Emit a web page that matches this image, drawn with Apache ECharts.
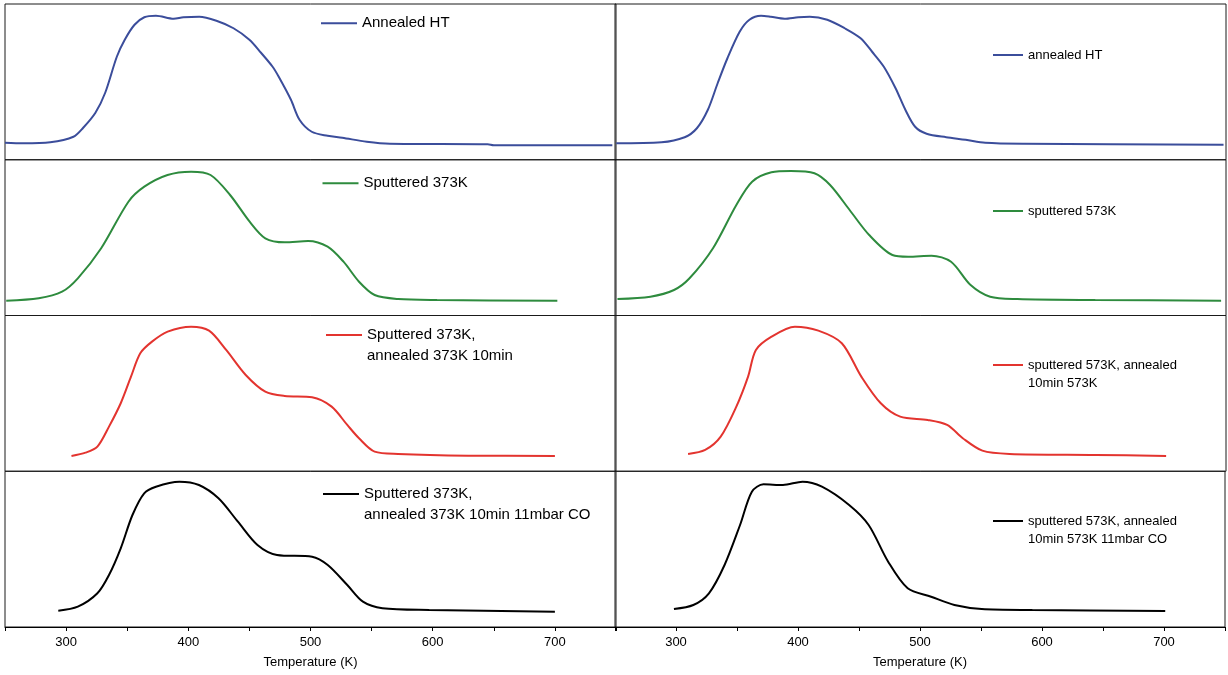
<!DOCTYPE html>
<html>
<head>
<meta charset="utf-8">
<script src="https://cdn.jsdelivr.net/npm/echarts@6/dist/echarts.min.js"></script>
<style>
html,body{margin:0;padding:0;background:#fff;}
#c{width:1228px;height:675px;}
</style>
</head>
<body>
<div id="c"></div>
<script>
// ---- Data (temperature in K, intensity in arbitrary units) ----
const NAMES = [
  'Annealed HT', 'annealed HT',
  'Sputtered 373K', 'sputtered 573K',
  'Sputtered 373K,\nannealed 373K 10min', 'sputtered 573K, annealed\n10min 573K',
  'Sputtered 373K,\nannealed 373K 10min 11mbar CO', 'sputtered 573K, annealed\n10min 573K 11mbar CO'
];
const TICK_LABELS = [300, 400, 500, 600, 700];

const T_A_L = [250,265,287,306,314,324,332,341.5,348,356,364,373.5,388,396,409,423,437,450,459.5,469,474,484,491,501,514,526,546,565,645,650,747];
const I_A_L = [17,16.5,17.5,23,32,47,67,103,120,135,142.5,144,141,142.5,143,139,131.5,120,107,93,83,60,40,28,24,22,18,16,15.5,14.5,14.5];

const T_A_R = [251,288,307,317,326,334,342,352,360,369.5,377.5,388.7,400,409.4,423.7,438,451,460.4,470,479.6,487.6,495.6,505,521,537,553,585,748];
const I_A_R = [16.5,17.5,22.5,31.5,50,76.5,101.5,128,140,144,143,141,142.5,143,140,131.5,121.5,108,93,71.5,50,33,26,22.5,20,17,16,15];

const T_S_L = [251,277.6,296.7,309.6,328.7,351,364,383,402.3,418.2,434.2,450.2,463,479,498,514,527,539.7,552.5,571.7,603.6,702];
const I_S_L = [14.8,17.2,23.8,37.2,67.2,113.8,128.8,140.5,143.8,140.5,120.5,93.8,77.2,73.2,74.5,68.8,53.8,33.8,20.5,16.5,15.5,14.8];

const T_S_R = [252,279,298.3,311,330.2,349.3,362.2,378,394,413.2,426,442,458,477,490,509,525,541,557,579.3,643,746];
const I_S_R = [16.5,18.8,25.5,37.2,67.2,110.5,133.8,143.2,144.5,142.2,130.5,105.5,80.5,60.5,58.8,59.8,53.8,30.5,18.8,16.5,15.5,14.8];

const T_SA_L = [304.4,315.9,325.6,335.1,344.7,353.1,360.7,370.3,383.1,402.3,417,431,447,463,478.9,501.3,517.3,530.1,539.7,552.5,571.7,629,700];
const I_SA_L = [15.3,18.6,24.6,44.6,68,94.6,118,129.6,139.6,144.6,140.6,121.3,96.3,79.6,75.3,74,64.6,46.3,33,19.6,17.3,15.6,15.3];

const T_SA_R = [309.8,323.8,336.5,349.3,358.9,365.3,378.1,397.2,416.4,435.6,451.6,467.5,483.4,505.9,521.8,534.6,550.6,572.9,643,701];
const I_SA_R = [17.3,21.3,34.6,64.6,94.6,121.3,134.6,144.6,140.6,128,94.6,68,54.6,51.3,46.3,33,20.6,17.3,16.3,15.3];

const T_CO_L = [293.6,309.6,325.6,335.1,344.7,354.3,363.9,373.5,392.7,408.7,424.7,440.6,456.6,472.6,501.3,514.1,530.1,542.9,558.9,597.2,700];
const I_CO_L = [16.3,20.3,33.7,52,78.7,112,133.7,140.3,145.3,142,128.7,105.3,82,72,70.3,62,42,25.3,18.7,17,15.3];

const T_CO_R = [298.3,314.2,327,339.8,352.5,362.2,371.7,387.7,403.7,419.6,441.9,457.9,473.9,489.9,509.1,528.2,550.6,592.1,701];
const I_CO_R = [18,22,33.7,62,102,135.3,142.7,142,145.3,140.3,122,102,65.3,38.7,30.3,22,18,17,16];

const TEMPS = [T_A_L, T_A_R, T_S_L, T_S_R, T_SA_L, T_SA_R, T_CO_L, T_CO_R];
const INTS  = [I_A_L, I_A_R, I_S_L, I_S_R, I_SA_L, I_SA_R, I_CO_L, I_CO_R];
const COLORS = ['#3b4d9b','#3b4d9b','#2e8b3e','#2e8b3e','#e3342f','#e3342f','#000000','#000000'];

// ---- Layout ----
const ROW_TOP = [4, 159.75, 315.5, 471.25];
const ROW_H = 155.75;
const COL_LEFT = [5, 615];
const COL_W = 611;
const FONT = '"Liberation Sans", Arial, sans-serif';

// legend placement: [iconLeft, iconCenterY] per panel
const LEG_POS = [
  [321, 23.3], [993, 55],
  [322.5, 183.3], [993, 211],
  [326, 335], [993, 365],
  [323, 494], [993, 521]
];

const grids = [], xAxes = [], yAxes = [], series = [], legends = [];
for (let i = 0; i < 8; i++) {
  const row = Math.floor(i / 2), col = i % 2;
  const bottomRow = row === 3;
  grids.push({
    left: COL_LEFT[col], top: ROW_TOP[row], width: COL_W, height: ROW_H,
    show: true, borderColor: '#1a1a1a', borderWidth: 1, backgroundColor: 'transparent'
  });
  xAxes.push({
    type: 'value', gridIndex: i, min: 250, max: 750, interval: 50,
    show: true,
    splitLine: { show: false },
    axisLine: { show: bottomRow, onZero: false, lineStyle: { color: '#000', width: 1 } },
    axisTick: { show: bottomRow, length: 4, lineStyle: { color: '#000' } },
    axisLabel: {
      show: bottomRow, margin: 9, color: '#000', fontSize: 13, fontFamily: FONT,
      formatter: v => TICK_LABELS.indexOf(v) >= 0 ? String(v) : ''
    },
    name: bottomRow ? 'Temperature (K)' : '',
    nameLocation: 'middle', nameGap: 29,
    nameTextStyle: { color: '#000', fontSize: 13, fontFamily: FONT }
  });
  yAxes.push({
    type: 'value', gridIndex: i, min: 0, max: ROW_H, show: false,
    splitLine: { show: false }
  });
  series.push({
    type: 'line', name: NAMES[i], xAxisIndex: i, yAxisIndex: i,
    data: TEMPS[i].map((t, k) => [t, INTS[i][k]]),
    showSymbol: false, symbol: 'none', smooth: 0.3,
    lineStyle: { color: COLORS[i], width: 2 },
    itemStyle: { color: COLORS[i] },
    animation: false
  });
  const twoLine = NAMES[i].indexOf('\n') >= 0;
  const fs = col === 0 ? 15 : 13;
  const lh = col === 0 ? 21 : 18;
  const boxH = twoLine ? lh * 3 : lh;
  legends.push({
    data: [NAMES[i]],
    left: LEG_POS[i][0],
    top: LEG_POS[i][1] - boxH / 2,
    padding: 0,
    icon: 'rect',
    itemWidth: col === 0 ? 36 : 30,
    itemHeight: 2,
    itemGap: 5,
    selectedMode: false,
    // an empty first line keeps the first text line level with the legend line
    formatter: twoLine ? (n => ' \n' + n) : (n => n),
    textStyle: {
      color: '#000', fontSize: fs, fontFamily: FONT, lineHeight: lh
    }
  });
}

const chart = echarts.init(document.getElementById('c'), null, { renderer: 'canvas' });
chart.setOption({
  animation: false,
  backgroundColor: '#fff',
  grid: grids,
  xAxis: xAxes,
  yAxis: yAxes,
  legend: legends,
  series: series
});
</script>
</body>
</html>
